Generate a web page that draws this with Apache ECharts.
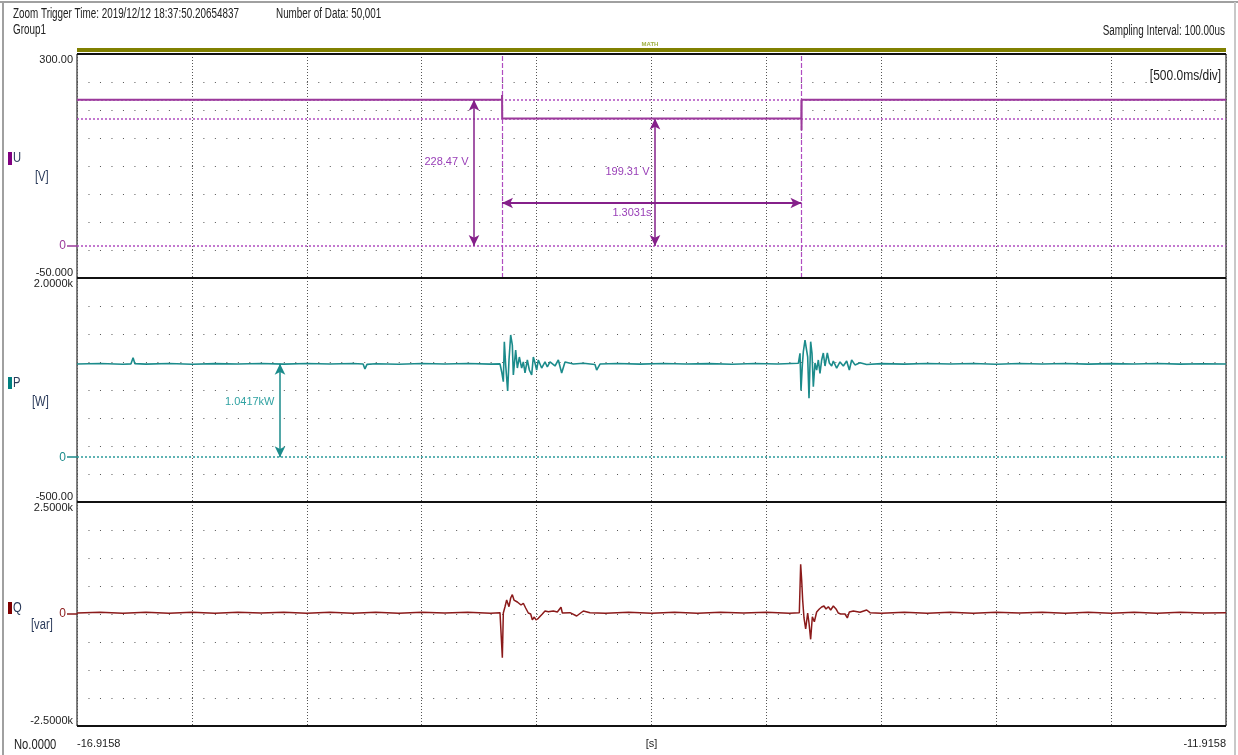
<!DOCTYPE html>
<html><head><meta charset="utf-8">
<script src="https://cdn.jsdelivr.net/npm/echarts@6/dist/echarts.min.js"></script>
<style>html,body{margin:0;padding:0;background:#fff}#c{width:1238px;height:755px}</style>
</head><body><div id="c"></div>
<script>
// ---------- data (time t in s from the left edge of the window) ----------
const T0 = -16.9158;            // absolute time at left edge [s]
const SPAN = 5;                 // 10 div x 500 ms
const X_TICK = 0.5;

const uTickValues = [-50, 0, 300];
const uTickLabels = ['-50.000', '0', '300.00'];
const pTickValues = [-500, 0, 2000];
const pTickLabels = ['-500.00', '0', '2.0000k'];
const qTickValues = [-2500, 0, 2500];
const qTickLabels = ['-2.5000k', '0', '2.5000k'];

const uPoints = [[0,228.47],[1.8494,228.47],[1.8497,236],[1.8502,199.31],[3.1520,199.31],[3.1525,228.47],[3.1529,181],[3.1534,228.47],[5,228.47]];

const pPoints = [[0.00,1040],[0.10,1046],[0.20,1038],[0.235,1042],[0.244,1110],[0.252,1044],[0.30,1039],[0.40,1046],[0.50,1038],[0.60,1044],[0.70,1040],[0.80,1046],[0.90,1039],[1.00,1045],[1.10,1040],[1.20,1046],[1.245,1040],[1.253,985],[1.262,1036],[1.30,1043],[1.40,1038],[1.50,1045],[1.60,1040],[1.70,1046],[1.80,1039],
[1.8407,1042],[1.8480,954],[1.8552,843],[1.8596,1289],[1.8654,1029],[1.8741,739],[1.8799,1085],[1.8872,1364],[1.8944,1252],[1.8988,917],[1.9089,1196],[1.9162,995],[1.9249,1118],[1.9350,995],[1.9423,1063],[1.9495,940],[1.9597,1085],[1.9684,973],[1.9785,917],[1.9858,1118],[1.9930,1051],[2.0003,973],[2.0075,1085],[2.0220,995],[2.0366,1063],[2.0467,1007],[2.0583,1063],[2.0801,1018],[2.0946,1085],[2.1091,940],[2.1236,1063],[2.1599,1040],[2.2034,1048],[2.2541,1035],[2.2614,973],[2.2759,1040],
[2.35,1045],[2.45,1039],[2.55,1046],[2.65,1040],[2.75,1044],[2.85,1038],[2.95,1045],[3.05,1040],
[3.1390,1048],[3.1462,1160],[3.1506,746],[3.1564,1030],[3.1607,1177],[3.1680,1308],[3.1752,1300],[3.1796,1120],[3.1854,657],[3.1926,1289],[3.1984,1160],[3.2042,787],[3.2115,1051],[3.2187,973],[3.2260,1085],[3.2332,936],[3.2405,1085],[3.2477,1163],[3.2550,1018],[3.2652,1163],[3.2739,1051],[3.2840,1018],[3.2913,1074],[3.3058,995],[3.3203,1063],[3.3348,1018],[3.3493,1074],[3.3609,973],[3.3710,1085],[3.3855,1030],[3.4073,1055],[3.4363,1035],
[3.50,1044],[3.60,1039],[3.70,1046],[3.80,1040],[3.90,1045],[4.00,1038],[4.10,1045],[4.20,1041],[4.30,1046],[4.40,1039],[4.50,1044],[4.60,1040],[4.70,1046],[4.80,1039],[4.90,1043],[5.00,1041]];

const qPoints = [[0.00,25],[0.10,40],[0.20,15],[0.30,38],[0.40,18],[0.50,40],[0.60,15],[0.70,38],[0.80,20],[0.90,40],[1.00,16],[1.10,38],[1.20,18],[1.30,40],[1.40,15],[1.50,38],[1.60,20],[1.70,40],[1.80,18],
[1.8407,30],[1.8480,45],[1.8509,-975],[1.8552,22],[1.8625,163],[1.8697,312],[1.8741,268],[1.8799,163],[1.8872,357],[1.8944,431],[1.9017,312],[1.9089,350],[1.9162,268],[1.9249,290],[1.9321,201],[1.9423,239],[1.9524,134],[1.9640,22],[1.9742,0],[1.9814,-127],[1.9901,-67],[1.9974,-134],[2.0075,-96],[2.0148,-134],[2.0250,0],[2.0366,67],[2.0511,51],[2.0728,67],[2.0902,45],[2.0975,45],[2.1062,150],[2.1120,22],[2.1453,30],[2.1744,-45],[2.2034,67],[2.2324,30],
[2.30,15],[2.40,40],[2.50,18],[2.60,38],[2.70,15],[2.80,40],[2.90,20],[3.00,38],[3.10,16],
[3.1433,30],[3.1491,1109],[3.1535,759],[3.1578,312],[3.1636,-89],[3.1709,-335],[3.1767,-313],[3.1796,22],[3.1854,-201],[3.1926,-565],[3.1999,-60],[3.2086,-172],[3.2187,45],[3.2303,112],[3.2405,156],[3.2506,179],[3.2594,112],[3.2695,163],[3.2797,89],[3.2913,179],[3.3029,112],[3.3130,22],[3.3232,0],[3.3421,0],[3.3522,-89],[3.3609,45],[3.3783,67],[3.4073,40],[3.4363,89],[3.4508,30],
[3.50,15],[3.60,40],[3.70,18],[3.80,38],[3.90,15],[4.00,40],[4.10,20],[4.20,38],[4.30,16],[4.40,40],[4.50,18],[4.60,38],[4.70,15],[4.80,40],[4.90,20],[5.00,30]];

// cursors / measurements
const cursorTimes = [1.8494, 3.1525];       // 1.3031 s apart
const uLevels = [228.47, 199.31];
const uArrowTimes = [1.7276, 2.5152];
const uArrowLabels = ['228.47 V', '199.31 V'];
const uArrowLabelValues = [131.25, 115.6];
const dtArrowValue = 67.2;
const dtLabel = '1.3031s';
const dtLabelPos = [2.4151, 51.6];
const pLevel = 1041.7;
const pArrowTime = 0.8834;
const pArrowLabel = '1.0417kW';
const pArrowLabelValue = 616;

// ---------- style ----------
const FONT = '"Liberation Sans",Arial,sans-serif';
const FS = 11;
const U_COLOR = '#9b3a9b', U_CUR = '#b04cc0', U_ARROW = '#85208a', U_TEXT = '#9a40b8';
const P_COLOR = '#1b8b8b', P_CUR = '#2a9a9a', P_TEXT = '#30a2a2';
const Q_COLOR = '#8b1a1a';
const TXT = '#222';
const L = 77, R = 12, H = 224, TOPS = [54, 278, 502];
const PLOT_W = 1238 - L - R;

function yLabelFmt(values, labels) {
  return function (v) {
    const i = values.indexOf(v);
    if (i < 0) return '';
    if (v === 0) return '{z|' + labels[i] + '}';
    return labels[i];
  };
}
function dataY(gi, min, max, values, labels, zc) {
  return {
    type: 'value', gridIndex: gi, min: min, max: max, position: 'left',
    axisLine: { show: false },
    splitLine: { show: false },
    axisTick: { show: true, customValues: [0], length: 10, lineStyle: { color: zc, width: 1.5 } },
    axisLabel: {
      customValues: values, formatter: yLabelFmt(values, labels), margin: 4,
      color: TXT, fontFamily: FONT, fontSize: FS,
      verticalAlignMinLabel: 'bottom', verticalAlignMaxLabel: 'top',
      rich: { z: { color: zc, fontFamily: FONT, fontSize: 12, padding: [0, 7, 0, 0] } }
    }
  };
}
function divY(gi) {
  return {
    type: 'value', gridIndex: gi, min: 0, max: 8, interval: 1, position: 'right',
    axisLine: { show: false }, axisTick: { show: false }, axisLabel: { show: false },
    splitLine: { show: true, lineStyle: { color: '#555', width: 1, type: [1, 10.49] } }
  };
}
function xAx(gi, labels) {
  return {
    type: 'value', gridIndex: gi, min: 0, max: SPAN, interval: X_TICK,
    axisLine: { show: false }, axisTick: { show: false },
    splitLine: { show: true, lineStyle: { color: '#555', width: 1, type: [1, 2] } },
    axisLabel: labels ? {
      customValues: [0, SPAN / 2, SPAN],
      formatter: function (v) { return v === SPAN / 2 ? '[s]' : (T0 + v).toFixed(4); },
      alignMinLabel: 'left', alignMaxLabel: 'right',
      margin: 12, color: TXT, fontFamily: FONT, fontSize: FS
    } : { show: false }
  };
}
const dashH = (c) => ({ color: c, width: 1.5, type: [2, 2] });
function arrowPair(a, b, color, w) {
  return [
    { coord: a, symbol: 'arrow', symbolSize: [8, 11], lineStyle: { color: color, width: w, type: 'solid' } },
    { coord: b, symbol: 'arrow', symbolSize: [8, 11] }
  ];
}
function labelPoint(coord, text, color, pos) {
  return { coord: coord, symbol: 'circle', symbolSize: 1, itemStyle: { color: 'rgba(0,0,0,0)' },
    label: { show: true, formatter: text, position: pos, distance: 5, color: color, fontFamily: FONT, fontSize: FS } };
}

const chart = echarts.init(document.getElementById('c'), null, { renderer: 'canvas' });

const gfxText = (x, y, text, opts, sx) => ({
  type: 'text', x: x, y: y, silent: true, scaleX: sx || 0.705, z: 100,
  style: Object.assign({ text: text, fill: TXT, font: '14px ' + FONT, textAlign: 'left', textVerticalAlign: 'middle', align: 'left', verticalAlign: 'middle' }, opts || {})
});
const hLine = (y) => ({ type: 'line', silent: true, z: 90, shape: { x1: L, y1: y, x2: L + PLOT_W, y2: y }, style: { stroke: '#111', lineWidth: 2 } });

chart.setOption({
  animation: false,
  backgroundColor: '#fff',
  grid: TOPS.map(t => ({ left: L, right: R, top: t, height: H, show: true, borderColor: '#000', borderWidth: 1, backgroundColor: 'transparent' })),
  xAxis: [xAx(0, false), xAx(1, false), xAx(2, true)],
  yAxis: [
    dataY(0, -50, 300, uTickValues, uTickLabels, U_COLOR),
    dataY(1, -500, 2000, pTickValues, pTickLabels, P_COLOR),
    dataY(2, -2500, 2500, qTickValues, qTickLabels, Q_COLOR),
    divY(0), divY(1), divY(2)
  ],
  series: [
    { type: 'line', xAxisIndex: 0, yAxisIndex: 0, data: uPoints, showSymbol: false, z: 5,
      lineStyle: { color: U_COLOR, width: 2 },
      markLine: { silent: true, symbol: ['none', 'none'], label: { show: false }, animation: false,
        data: [
          { yAxis: 0, lineStyle: dashH(U_CUR) },
          { yAxis: uLevels[0], lineStyle: dashH(U_CUR) },
          { yAxis: uLevels[1], lineStyle: dashH(U_CUR) },
          { xAxis: cursorTimes[0], lineStyle: { color: U_CUR, width: 1.2, type: [5, 2] } },
          { xAxis: cursorTimes[1], lineStyle: { color: U_CUR, width: 1.2, type: [5, 2] } },
          arrowPair([uArrowTimes[0], 0], [uArrowTimes[0], uLevels[0]], U_ARROW, 1.5),
          arrowPair([uArrowTimes[1], 0], [uArrowTimes[1], uLevels[1]], U_ARROW, 1.5),
          arrowPair([cursorTimes[0], dtArrowValue], [cursorTimes[1], dtArrowValue], U_ARROW, 2)
        ] },
      markPoint: { silent: true, animation: false, data: [
        labelPoint([uArrowTimes[0], uArrowLabelValues[0]], uArrowLabels[0], U_TEXT, 'left'),
        labelPoint([uArrowTimes[1], uArrowLabelValues[1]], uArrowLabels[1], U_TEXT, 'left'),
        labelPoint(dtLabelPos, dtLabel, U_TEXT, 'inside')
      ] }
    },
    { type: 'line', xAxisIndex: 1, yAxisIndex: 1, data: pPoints, showSymbol: false, z: 5,
      lineStyle: { color: P_COLOR, width: 1.6 },
      markLine: { silent: true, symbol: ['none', 'none'], label: { show: false }, animation: false,
        data: [
          { yAxis: 0, lineStyle: dashH(P_CUR) },
          arrowPair([pArrowTime, 0], [pArrowTime, pLevel], P_COLOR, 1.5)
        ] },
      markPoint: { silent: true, animation: false, data: [
        labelPoint([pArrowTime, pArrowLabelValue], pArrowLabel, P_TEXT, 'left')
      ] }
    },
    { type: 'line', xAxisIndex: 2, yAxisIndex: 2, data: qPoints, showSymbol: false, z: 5,
      lineStyle: { color: Q_COLOR, width: 1.5 } }
  ],
  graphic: [
    // window frame
    { type: 'line', shape: { x1: 0, y1: 2, x2: 1238, y2: 2 }, style: { stroke: '#a0a0a0', lineWidth: 2 }, silent: true },
    { type: 'line', shape: { x1: 3, y1: 2, x2: 3, y2: 755 }, style: { stroke: '#a0a0a0', lineWidth: 2 }, silent: true },
    { type: 'line', shape: { x1: 1235, y1: 2, x2: 1235, y2: 755 }, style: { stroke: '#c8c8c8', lineWidth: 2 }, silent: true },
    // panel separators (heavier horizontal frame lines)
    hLine(TOPS[0]), hLine(TOPS[1]), hLine(TOPS[2]), hLine(TOPS[2] + H),
    // header
    gfxText(13, 14, 'Zoom Trigger Time: 2019/12/12 18:37:50.20654837'),
    gfxText(276, 14, 'Number of Data: 50,001'),
    gfxText(13, 30, 'Group1'),
    gfxText(1225, 31, 'Sampling Interval: 100.00us', { textAlign: 'right', align: 'right' }),
    // MATH bar
    { type: 'rect', shape: { x: L, y: 48, width: PLOT_W, height: 4 }, style: { fill: '#808000' }, silent: true },
    gfxText(650, 44, 'MATH', { textAlign: 'center', align: 'center', fill: '#a0b040', font: 'bold 6px ' + FONT }, 1),
    // time/div
    gfxText(1222, 76, '[500.0ms/div]', { textAlign: 'right', align: 'right', font: '15px ' + FONT, backgroundColor: '#fff', padding: [1, 1, 1, 2] }, 0.8),
    // channel labels
    { type: 'rect', shape: { x: 8, y: 152, width: 4, height: 13 }, style: { fill: '#800080' }, silent: true },
    gfxText(13, 158, 'U', { font: '14px ' + FONT, fill: '#2a3a5a' }, 0.8),
    gfxText(35, 177, '[V]', { font: '14px ' + FONT, fill: '#2a3a5a' }, 0.8),
    { type: 'rect', shape: { x: 8, y: 377, width: 4, height: 12 }, style: { fill: '#008080' }, silent: true },
    gfxText(13, 383, 'P', { font: '14px ' + FONT, fill: '#2a3a5a' }, 0.8),
    gfxText(32, 402, '[W]', { font: '14px ' + FONT, fill: '#2a3a5a' }, 0.8),
    { type: 'rect', shape: { x: 8, y: 602, width: 4, height: 12 }, style: { fill: '#800000' }, silent: true },
    gfxText(13, 608, 'Q', { font: '14px ' + FONT, fill: '#2a3a5a' }, 0.8),
    gfxText(31, 625, '[var]', { font: '14px ' + FONT, fill: '#2a3a5a' }, 0.8),
    // footer
    gfxText(14, 745, 'No.0000', { font: '14px ' + FONT }, 0.8)
  ]
});
</script>
</body></html>
